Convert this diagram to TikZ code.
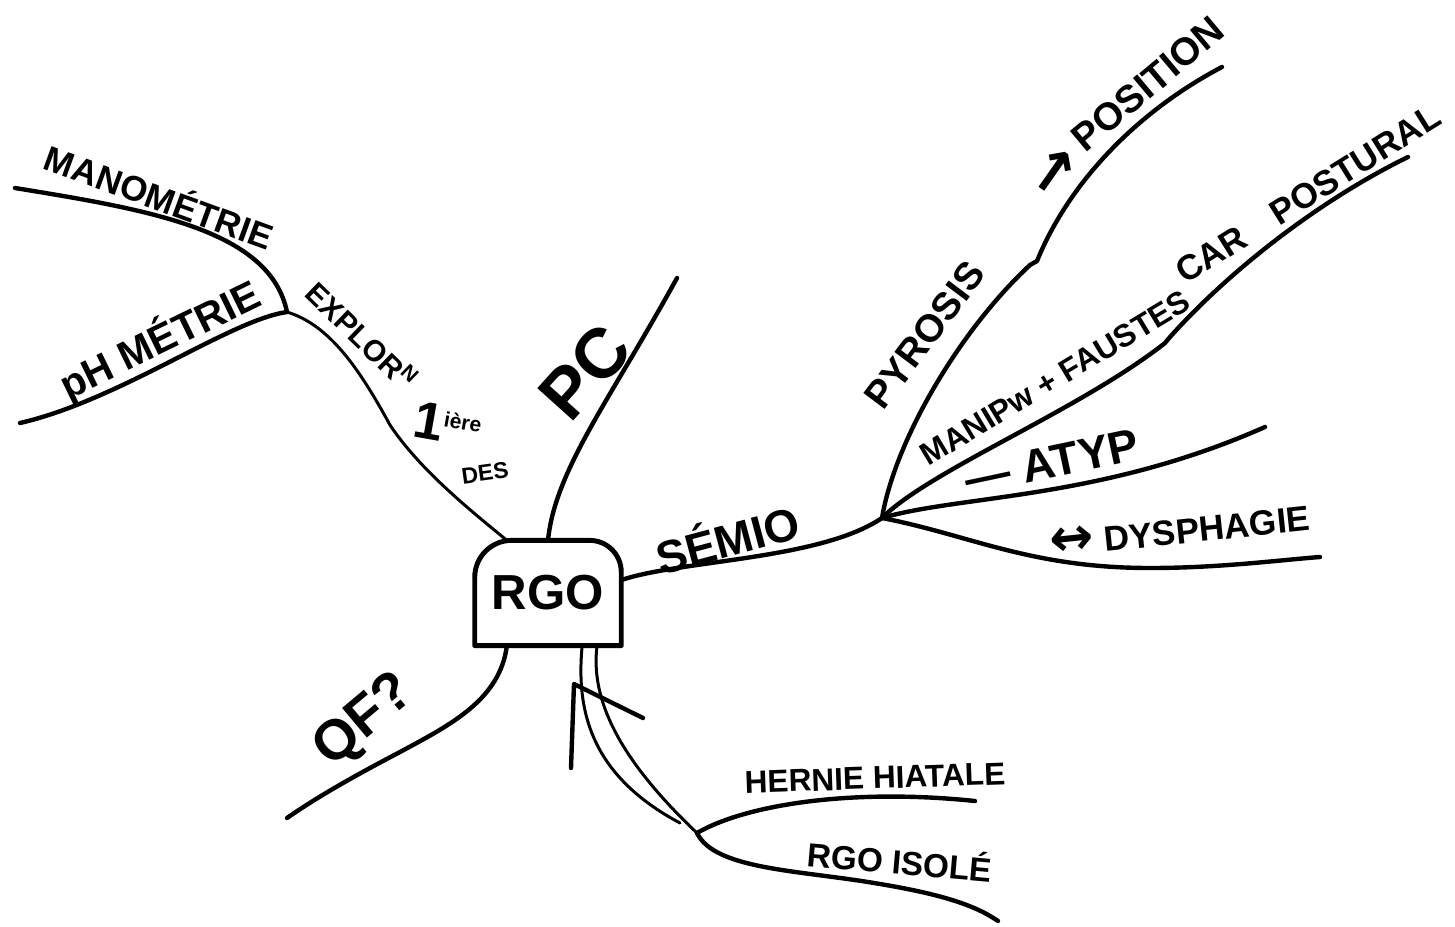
\documentclass[tikz,border=0pt]{standalone}
\usepackage{fontspec}
\setmainfont{Liberation Sans}
\newfontfamily\symb{DejaVu Sans}
\begin{document}
\begin{tikzpicture}[
  x=0.02cm, y=-0.02cm,
  branche/.style={line width=2.5pt, line cap=round, line join=round, black},
  branchefine/.style={line width=1.7pt, line cap=round, black},
  boite/.style={minimum width=83pt, minimum height=59.5pt,
    inner sep=0pt, font=\fontsize{28}{28}\selectfont\bfseries},
  contour/.style={line width=2.8pt, line join=round},
  etiq/.style={inner sep=0pt, font=\fontsize{20}{24}\selectfont,
    execute at begin node=\bfseries},
  ]
  \useasboundingbox (0,0) rectangle (1455,927);

  % noeud central
  \node[boite] (rgo) at (548,593) {RGO};
  \draw[contour] (rgo.south west) -- ([yshift=-21pt]rgo.north west)
    arc[start angle=180, end angle=90, radius=21pt]
    -- ([xshift=-18pt]rgo.north east)
    arc[start angle=90, end angle=0, radius=18pt]
    -- (rgo.south east) -- cycle;

  % jonctions
  \coordinate (jexp) at (287,312);
  \coordinate (jsem) at (882,518);
  \coordinate (jbas) at (697,833);

  % extremites libres
  \coordinate (fmano)  at (15,188);
  \coordinate (fph)    at (20,423);
  \coordinate (fpc)    at (677,278);
  \coordinate (fqf)    at (287,818);
  \coordinate (fpyro)  at (1222,67);
  \coordinate (fmanip) at (1408,157);
  \coordinate (fatyp)  at (1265,427);
  \coordinate (fdys)   at (1320,557);
  \coordinate (fhern)  at (975,801);
  \coordinate (fisol)  at (998,921);

  % points de passage
  \coordinate (mexp)    at (390,425);
  \coordinate (kpyroA)  at (1030,265);
  \coordinate (kpyroB)  at (1037,261);
  \coordinate (kmanipA) at (1165,343);
  \coordinate (kmanipB) at (1170,337);
  \coordinate (mdys)    at (1150,568);
  \coordinate (mqf)     at (400,752);
  \coordinate (misol)   at (880,884);
  \coordinate (finA)    at (680,823);

  % fleche vers RGO
  \coordinate (pointe) at (574,684);
  \coordinate (barbeG) at (571,768);
  \coordinate (barbeD) at (643,718);

  % branches
  \draw[branchefine] (rgo.128) .. controls (470,510) and (420,470) .. (mexp)
    .. controls (360,370) and (330,325) .. (jexp);
  \draw[branche] (jexp) .. controls (270,230) and (150,210) .. (fmano);
  \draw[branche] (jexp) .. controls (230,320) and (120,400) .. (fph);
  \draw[branche] (rgo.north) .. controls (555,470) and (610,400) .. (fpc);
  \draw[branche] (rgo.10) .. controls (680,560) and (820,560) .. (jsem);
  \draw[branche] (jsem) .. controls (895,440) and (960,330) .. (kpyroA)
    -- (kpyroB) .. controls (1070,180) and (1140,110) .. (fpyro);
  \draw[branche] (jsem) .. controls (930,470) and (1080,410) .. (kmanipA)
    -- (kmanipB) .. controls (1230,270) and (1320,200) .. (fmanip);
  \draw[branche] (jsem) .. controls (960,495) and (1100,500) .. (fatyp);
  \draw[branche] (jsem) .. controls (970,535) and (1030,568) .. (mdys)
    .. controls (1220,568) and (1280,560) .. (fdys);
  \draw[branche] (rgo.232) .. controls (500,700) and (450,725) .. (mqf)
    .. controls (360,773) and (320,795) .. (fqf);

  % causes
  \draw[branchefine] (rgo.303) .. controls (576,710) and (590,775) .. (finA);
  \draw[branchefine] (rgo.313) .. controls (590,700) and (620,760) .. (jbas);
  \draw[branche] (barbeG) -- (pointe) -- (barbeD);
  \draw[branche] (jbas) .. controls (745,805) and (850,788) .. (fhern);
  \draw[branche] (jbas) .. controls (715,870) and (800,870) .. (misol)
    .. controls (940,894) and (975,905) .. (fisol);

  % etiquettes
  \node[etiq, rotate=-20] (mano) at (160,195) {MANOMÉTRIE};
  \node[etiq, font=\fontsize{23}{23}\selectfont, rotate=26] (ph) at (160,340) {pH MÉTRIE};
  \node[etiq, font=\fontsize{17}{17}\selectfont, rotate=-44] (explor) at (362,335) {EXPLOR\textsuperscript{N}};
  \node[etiq, font=\fontsize{30}{30}\selectfont, rotate=-10] (prem) at (448,425) {1\textsuperscript{\fontsize{12}{12}\selectfont ière}};
  \node[etiq, font=\fontsize{13}{13}\selectfont, rotate=8] (des) at (485,473) {DES};
  \node[etiq, font=\fontsize{40}{40}\selectfont, rotate=48] (pc) at (585,372) {PC};
  \node[etiq, font=\fontsize{26}{26}\selectfont, rotate=15] (semio) at (727,537) {SÉMIO};
  \node[etiq, font=\fontsize{22}{22}\selectfont, rotate=53] (pyro) at (925,335) {PYROSIS};
  \node[etiq, font=\fontsize{22}{22}\selectfont, rotate=40] (posi) at (1127,113) {{\symb\fontsize{34}{34}\selectfont\rotatebox{-30}{↗}}\,POSITION};
  \node[etiq, font=\fontsize{18}{18}\selectfont, rotate=31] (manip) at (1055,378) {MANIPw + FAUSTES};
  \node[etiq, font=\fontsize{20}{20}\selectfont, rotate=32] (postu) at (1308,194) {CAR\quad POSTURAL};
  \node[etiq, font=\fontsize{26}{26}\selectfont, rotate=12] (atyp) at (1052,462) {— ATYP};
  \node[etiq, rotate=6] (dys) at (1180,530) {{\symb\fontsize{30}{30}\selectfont ↔}\ DYSPHAGIE};
  \node[etiq, font=\fontsize{32}{32}\selectfont, rotate=40] (qf) at (365,722) {QF?};
  \node[etiq, font=\fontsize{18}{18}\selectfont, rotate=2] (hern) at (875,778) {HERNIE HIATALE};
  \node[etiq, font=\fontsize{19}{19}\selectfont, rotate=-5] (isol) at (900,860) {RGO ISOLÉ};
\end{tikzpicture}
\end{document}
